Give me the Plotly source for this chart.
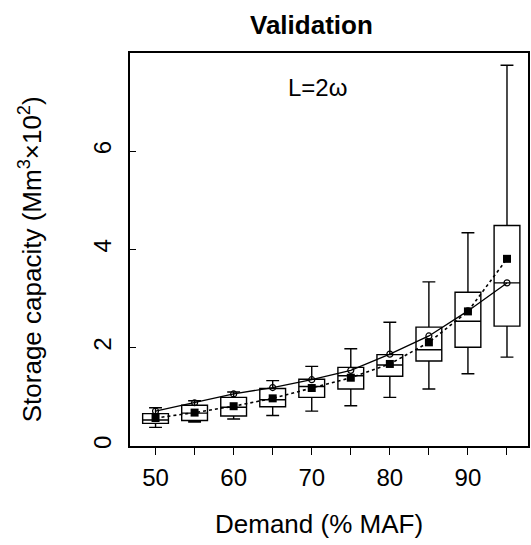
import plotly.graph_objects as go

# ---- data ----
demand = [50, 55, 60, 65, 70, 75, 80, 85, 90, 95]
lower_whisker = [0.38, 0.49, 0.55, 0.62, 0.71, 0.82, 0.99, 1.16, 1.47, 1.81]
q1 = [0.46, 0.52, 0.61, 0.80, 0.99, 1.16, 1.42, 1.73, 2.01, 2.44]
median = [0.53, 0.67, 0.79, 0.94, 1.21, 1.43, 1.65, 1.96, 2.54, 3.32]
q3 = [0.66, 0.83, 0.99, 1.17, 1.36, 1.60, 1.86, 2.42, 3.13, 4.49]
upper_whisker = [0.78, 0.92, 1.10, 1.33, 1.62, 1.98, 2.52, 3.34, 4.34, 7.75]
observed = [0.71, 0.88, 1.06, 1.19, 1.35, 1.54, 1.87, 2.24, 2.75, 3.32]   # open circles, solid line
mean_sim = [0.57, 0.68, 0.81, 0.97, 1.18, 1.39, 1.67, 2.11, 2.74, 3.81]   # filled squares, dotted line

x_tickvals = [50, 55, 60, 65, 70, 75, 80, 85, 90, 95]
x_ticktext = ["50", "", "60", "", "70", "", "80", "", "90", ""]
y_tickvals = [0, 2, 4, 6]
y_ticktext = ["0", "2", "4", "6"]

FONT = "Liberation Sans, Arial, sans-serif"

W, H = 531, 545
ML, MR, MT, MB = 130, 1, 53, 98.5
PW = W - ML - MR
PH = H - MT - MB


def px_x(px):
    return (px - ML) / PW


def px_y(py_from_top):
    return (H - MB - py_from_top) / PH


fig = go.Figure()

fig.add_trace(go.Box(
    x=demand, q1=q1, median=median, q3=q3,
    lowerfence=lower_whisker, upperfence=upper_whisker,
    width=3.3, whiskerwidth=0.5,
    fillcolor="white", line=dict(color="black", width=1.4),
    boxpoints=False, showlegend=False, hoverinfo="skip",
))

fig.add_trace(go.Scatter(
    x=demand, y=mean_sim, mode="lines+markers",
    line=dict(color="black", width=1.6, dash="dot"),
    marker=dict(symbol="square", size=8, color="black"),
    showlegend=False,
))

fig.add_trace(go.Scatter(
    x=demand, y=observed, mode="lines+markers",
    line=dict(color="black", width=1.3),
    marker=dict(symbol="circle-open", size=6, color="black", line=dict(width=1.2)),
    showlegend=False,
))

fig.update_layout(
    width=W, height=H,
    margin=dict(l=ML, r=MR, t=MT, b=MB),
    paper_bgcolor="white", plot_bgcolor="white",
    font=dict(family=FONT, color="black", size=24),
    xaxis=dict(
        range=[46.73, 97.69], tickvals=x_tickvals, ticktext=x_ticktext,
        ticks="outside", ticklen=7, tickwidth=1.4, tickcolor="black",
        showline=True, linecolor="black", linewidth=1.6, mirror=True,
        showgrid=False, zeroline=False, ticklabelstandoff=2,
        tickfont=dict(size=24),
    ),
    yaxis=dict(
        range=[0, 8.0], tickvals=y_tickvals, ticktext=y_ticktext,
        ticks="inside", ticklen=6, tickwidth=1.4, tickcolor="black",
        showline=True, linecolor="black", linewidth=1.6, mirror=True,
        showgrid=False, zeroline=False, tickangle=-90, ticklabelstandoff=8,
        tickfont=dict(size=24),
    ),
    annotations=[
        dict(text="<b>Validation</b>", x=px_x(312), y=px_y(25), xref="paper", yref="paper",
             xanchor="center", yanchor="middle", showarrow=False, font=dict(size=26)),
        dict(text="L=2ω", x=70.7, y=7.3, xref="x", yref="y",
             xanchor="center", yanchor="middle", showarrow=False, font=dict(size=24)),
        dict(text="Demand (% MAF)", x=px_x(320), y=px_y(525), xref="paper", yref="paper",
             xanchor="center", yanchor="middle", showarrow=False, font=dict(size=26)),
        dict(text="Storage capacity (Mm<sup>3</sup>×10<sup>2</sup>)", x=px_x(30), y=px_y(260),
             xref="paper", yref="paper", textangle=-90, xanchor="center", yanchor="middle",
             showarrow=False, font=dict(size=26)),
    ],
)

fig.write_html("out.html")
